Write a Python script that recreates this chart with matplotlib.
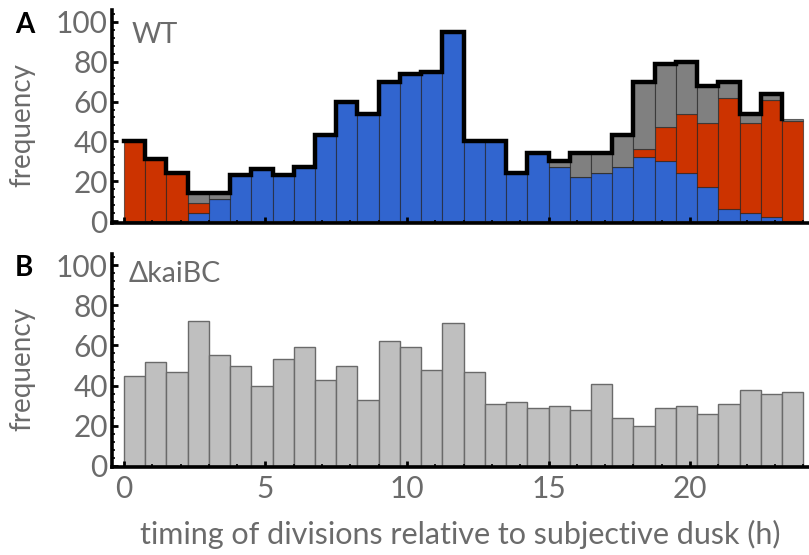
import numpy as np
import matplotlib
matplotlib.use("Agg")
import matplotlib.pyplot as plt
from matplotlib.ticker import MultipleLocator

plt.rcParams['font.family'] = ['Lato', 'DejaVu Sans']

# bins of 0.75 h, from 0 to 24 h
bin_width = 0.75
n_bins = 32

# WT: stacked counts (blue bottom, red middle, gray top)
wt_blue = [0, 0, 0, 4, 11, 23, 26, 23, 27, 43, 60, 54, 70, 74, 75, 95,
           40, 40, 24, 34, 27, 22, 24, 27, 32, 30, 24, 17, 6, 4, 2, 0]
wt_red = [40, 31, 24, 5, 0, 0, 0, 0, 0, 0, 0, 0, 0, 0, 0, 0,
          0, 0, 0, 0, 0, 0, 0, 0, 4, 17, 30, 32, 56, 45, 59, 50]
wt_gray = [0, 0, 0, 5, 3, 0, 0, 0, 0, 0, 0, 0, 0, 0, 0, 0,
           0, 0, 0, 0, 3, 12, 10, 16, 34, 32, 26, 19, 8, 5, 3, 1]

# kaiBC deletion counts
kaibc = [45, 52, 47, 72, 55, 50, 40, 53, 59, 43, 50, 33, 62, 59, 48, 71,
         47, 31, 32, 29, 30, 28, 41, 24, 20, 29, 30, 26, 31, 38, 36, 37]

edges = np.arange(n_bins) * bin_width
blue = np.array(wt_blue)
red = np.array(wt_red)
gray = np.array(wt_gray)
total = blue + red + gray

text_gray = "#6b6b6b"

fig = plt.figure(figsize=(8.09, 5.55), dpi=100)
ax1 = fig.add_axes([112 / 809, (555 - 223) / 555, 1 - 112 / 809, 213 / 555])
ax2 = fig.add_axes([112 / 809, (555 - 467) / 555, 1 - 112 / 809, 213 / 555])

ec = (0.1, 0.1, 0.1, 0.6)
ax1.bar(edges, blue, width=bin_width, align="edge", color="#3165cf", edgecolor=ec, linewidth=0.8)
ax1.bar(edges, red, width=bin_width, align="edge", bottom=blue, color="#cc3300", edgecolor=ec, linewidth=0.8)
ax1.bar(edges, gray, width=bin_width, align="edge", bottom=blue + red, color="#808080", edgecolor=ec, linewidth=0.8)
# outline stops at the start of the last bin
ax1.plot(edges, total, drawstyle="steps-post", color="black", lw=3.2, solid_joinstyle="miter")

ax2.bar(edges, kaibc, width=bin_width, align="edge", color="#bfbfbf", edgecolor="#6a6a6a", linewidth=1.0)

for ax, name, xt, yt in [(ax1, "WT", 0.28, 100), (ax2, "\u0394kaiBC", 0.15, 102)]:
    ax.set_xlim(-0.42, 24.2)
    ax.spines["top"].set_visible(False)
    ax.spines["right"].set_visible(False)
    ax.spines["left"].set_linewidth(2.6)
    ax.spines["bottom"].set_linewidth(2.6)
    ax.yaxis.set_major_locator(MultipleLocator(20))
    ax.yaxis.set_minor_locator(MultipleLocator(4))
    ax.xaxis.set_major_locator(MultipleLocator(5))
    ax.xaxis.set_minor_locator(MultipleLocator(1))
    ax.tick_params(which="major", direction="in", length=4, width=2, color="black",
                   labelsize=21.5, labelcolor=text_gray, pad=3)
    ax.tick_params(axis="x", which="major", pad=6)
    ax.tick_params(which="minor", direction="in", length=2, width=1.2, color="black")
    ax.set_ylabel("frequency", fontsize=20, color=text_gray)
    ax.yaxis.set_label_coords(-0.110, 0.46)
    ax.text(xt, yt, name, fontsize=20.5, color=text_gray, ha="left", va="top")

ax1.set_ylim(-1.0, 106)
ax2.set_ylim(-0.5, 105.5)
ax1.tick_params(axis="x", labelbottom=False)

fig.text(15 / 809, 1 - 25 / 555, "A", fontsize=20, fontweight="bold", color="black", va="center")
fig.text(15 / 809, 1 - 268 / 555, "B", fontsize=20, fontweight="bold", color="black", va="center")

ax2.set_xlabel("timing of divisions relative to subjective dusk (h)", fontsize=22,
               color=text_gray, labelpad=12)

fig.savefig("out.png", dpi=100)
